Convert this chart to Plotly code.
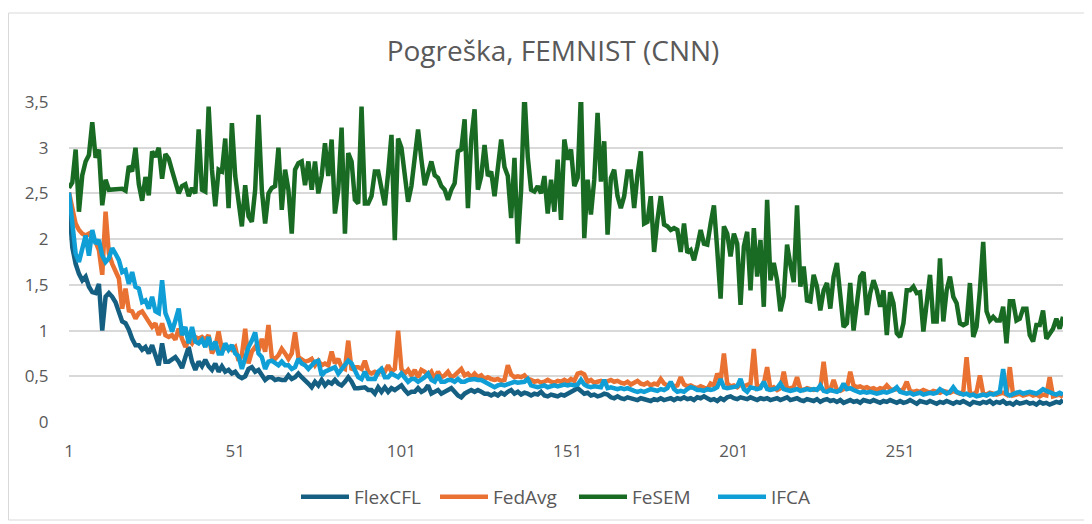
import plotly.graph_objects as go

title_text = "Pogreška, FEMNIST (CNN)"
series_names = ["FlexCFL", "FedAvg", "FeSEM", "IFCA"]
x_tick_vals = [1, 51, 101, 151, 201, 251]
y_tick_vals = [0, 0.5, 1, 1.5, 2, 2.5, 3, 3.5]

flexcfl = [
    2.39, 1.91, 1.73, 1.62, 1.55, 1.59, 1.48, 1.42, 1.41, 1.51,
    1.00, 1.37, 1.41, 1.37, 1.31, 1.22, 1.10, 1.08, 1.01, 0.91,
    0.84, 0.84, 0.79, 0.82, 0.75, 0.84, 0.71, 0.62, 0.86, 0.66,
    0.66, 0.68, 0.71, 0.66, 0.59, 0.71, 0.82, 0.66, 0.57, 0.66,
    0.61, 0.68, 0.61, 0.57, 0.64, 0.55, 0.61, 0.55, 0.57, 0.53,
    0.55, 0.50, 0.48, 0.50, 0.58, 0.60, 0.55, 0.57, 0.51, 0.46,
    0.49, 0.49, 0.46, 0.47, 0.46, 0.46, 0.51, 0.47, 0.49, 0.53,
    0.49, 0.46, 0.42, 0.38, 0.44, 0.40, 0.46, 0.40, 0.44, 0.42,
    0.46, 0.42, 0.40, 0.44, 0.49, 0.44, 0.37, 0.37, 0.37, 0.38,
    0.35, 0.35, 0.31, 0.38, 0.33, 0.38, 0.33, 0.37, 0.35, 0.38,
    0.40, 0.35, 0.31, 0.33, 0.33, 0.37, 0.33, 0.35, 0.40, 0.31,
    0.33, 0.35, 0.31, 0.33, 0.35, 0.37, 0.33, 0.29, 0.27, 0.31,
    0.33, 0.35, 0.33, 0.35, 0.33, 0.31, 0.31, 0.29, 0.31, 0.29,
    0.32, 0.30, 0.33, 0.35, 0.31, 0.33, 0.30, 0.32, 0.31, 0.29,
    0.31, 0.30, 0.33, 0.29, 0.28, 0.30, 0.29, 0.28, 0.30, 0.29,
    0.31, 0.33, 0.36, 0.37, 0.34, 0.31, 0.32, 0.29, 0.30, 0.28,
    0.29, 0.31, 0.30, 0.27, 0.26, 0.28, 0.26, 0.25, 0.27, 0.26,
    0.25, 0.24, 0.26, 0.25, 0.24, 0.23, 0.25, 0.24, 0.26, 0.24,
    0.25, 0.26, 0.24, 0.26, 0.25, 0.27, 0.25, 0.26, 0.24, 0.27,
    0.26, 0.28, 0.26, 0.24, 0.25, 0.23, 0.26, 0.24, 0.27, 0.28,
    0.26, 0.25, 0.27, 0.26, 0.25, 0.27, 0.26, 0.24, 0.26, 0.25,
    0.26, 0.24, 0.25, 0.26, 0.24, 0.25, 0.27, 0.24, 0.25, 0.26,
    0.24, 0.23, 0.25, 0.24, 0.23, 0.25, 0.22, 0.24, 0.25, 0.23,
    0.24, 0.22, 0.24, 0.21, 0.23, 0.24, 0.22, 0.23, 0.21, 0.24,
    0.23, 0.22, 0.24, 0.22, 0.21, 0.23, 0.22, 0.24, 0.22, 0.21,
    0.23, 0.21, 0.22, 0.24, 0.22, 0.20, 0.23, 0.22, 0.21, 0.23,
    0.22, 0.20, 0.22, 0.21, 0.23, 0.21, 0.20, 0.22, 0.21, 0.23,
    0.21, 0.19, 0.22, 0.21, 0.20, 0.22, 0.21, 0.23, 0.20, 0.22,
    0.21, 0.23, 0.20, 0.21, 0.19, 0.22, 0.20, 0.21, 0.22, 0.20,
    0.21, 0.19, 0.22, 0.20, 0.21, 0.19, 0.20, 0.22, 0.21, 0.24,
]

fedavg = [
    2.51, 2.31, 2.17, 2.10, 2.06, 2.04, 2.06, 2.02, 1.97, 1.88,
    1.61, 2.30, 1.84, 1.73, 1.64, 1.57, 1.24, 1.46, 1.22, 1.21,
    1.13, 1.19, 1.21, 1.15, 1.11, 1.04, 1.08, 0.95, 1.08, 0.95,
    0.93, 0.95, 0.90, 1.02, 0.91, 0.82, 0.90, 0.86, 0.93, 0.91,
    0.93, 0.90, 0.95, 0.75, 0.82, 0.99, 0.79, 0.81, 0.82, 0.79,
    0.82, 0.67, 0.73, 1.02, 0.64, 0.77, 0.82, 0.78, 0.91, 0.77,
    1.06, 0.71, 0.69, 0.73, 0.80, 0.75, 0.69, 0.75, 0.98, 0.71,
    0.69, 0.66, 0.67, 0.69, 0.62, 0.67, 0.62, 0.64, 0.62, 0.77,
    0.64, 0.69, 0.60, 0.58, 0.89, 0.57, 0.60, 0.60, 0.58, 0.67,
    0.55, 0.53, 0.55, 0.53, 0.58, 0.55, 0.62, 0.55, 0.58, 1.00,
    0.58, 0.53, 0.57, 0.51, 0.57, 0.49, 0.57, 0.55, 0.51, 0.55,
    0.47, 0.55, 0.49, 0.51, 0.55, 0.49, 0.51, 0.55, 0.58, 0.51,
    0.53, 0.49, 0.53, 0.49, 0.51, 0.47, 0.49, 0.47, 0.46, 0.47,
    0.45, 0.46, 0.62, 0.52, 0.49, 0.50, 0.49, 0.51, 0.47, 0.46,
    0.44, 0.45, 0.43, 0.44, 0.46, 0.44, 0.43, 0.45, 0.44, 0.46,
    0.44, 0.47, 0.45, 0.53, 0.54, 0.52, 0.44, 0.46, 0.43, 0.44,
    0.45, 0.43, 0.44, 0.46, 0.44, 0.45, 0.43, 0.42, 0.44, 0.41,
    0.43, 0.45, 0.42, 0.41, 0.43, 0.40, 0.42, 0.41, 0.47, 0.42,
    0.40, 0.42, 0.39, 0.40, 0.49, 0.41, 0.39, 0.40, 0.38, 0.37,
    0.39, 0.38, 0.36, 0.42, 0.40, 0.53, 0.45, 0.75, 0.42, 0.39,
    0.40, 0.38, 0.41, 0.39, 0.41, 0.42, 0.80, 0.37, 0.39, 0.42,
    0.60, 0.36, 0.38, 0.35, 0.37, 0.55, 0.36, 0.37, 0.38, 0.49,
    0.36, 0.35, 0.37, 0.36, 0.35, 0.36, 0.37, 0.66, 0.36, 0.35,
    0.46, 0.35, 0.34, 0.36, 0.37, 0.55, 0.40, 0.38, 0.39, 0.37,
    0.38, 0.36, 0.37, 0.35, 0.37, 0.36, 0.40, 0.36, 0.35, 0.36,
    0.34, 0.36, 0.44, 0.34, 0.33, 0.34, 0.33, 0.35, 0.33, 0.32,
    0.34, 0.33, 0.32, 0.34, 0.33, 0.32, 0.34, 0.33, 0.31, 0.33,
    0.71, 0.32, 0.30, 0.33, 0.51, 0.31, 0.30, 0.32, 0.31, 0.30,
    0.31, 0.32, 0.30, 0.60, 0.29, 0.30, 0.31, 0.29, 0.30, 0.31,
    0.29, 0.30, 0.28, 0.30, 0.29, 0.49, 0.28, 0.29, 0.30, 0.27,
]

fesem = [
    2.56, 2.62, 2.98, 2.30, 2.70, 2.85, 2.92, 3.28, 2.89, 2.98,
    2.37, 2.65, 2.54, 2.54, 2.54, 2.54, 2.55, 2.53, 2.80, 2.74,
    3.00, 2.60, 2.42, 2.68, 2.48, 2.96, 2.90, 3.00, 2.66, 2.93,
    2.88, 2.75, 2.63, 2.50, 2.58, 2.60, 2.47, 2.56, 2.50, 3.20,
    2.54, 2.52, 3.45, 2.76, 2.36, 2.76, 2.74, 3.10, 2.34, 3.27,
    2.69, 2.39, 2.14, 2.59, 2.25, 2.19, 2.54, 3.36, 2.54, 2.17,
    2.50, 2.56, 2.58, 3.00, 2.32, 2.76, 2.54, 2.06, 2.76, 2.83,
    2.85, 2.59, 2.85, 2.54, 2.85, 2.50, 2.69, 3.05, 2.69, 3.09,
    2.28, 2.54, 3.22, 2.06, 2.94, 2.85, 2.43, 2.39, 3.45, 2.39,
    2.39, 2.47, 2.74, 2.74, 2.54, 2.37, 2.72, 3.14, 1.99, 3.10,
    3.00, 2.72, 2.41, 2.58, 2.94, 3.20, 2.87, 2.59, 2.72, 2.85,
    2.70, 2.67, 2.58, 2.54, 2.43, 2.54, 2.61, 2.96, 2.98, 3.31,
    2.34, 3.09, 3.42, 2.54, 2.69, 3.03, 2.69, 2.74, 2.47, 2.78,
    3.09, 2.79, 2.69, 2.23, 2.89, 1.95, 2.54, 3.60, 2.90, 2.54,
    2.52, 2.58, 2.50, 2.69, 2.28, 2.65, 2.30, 2.87, 2.21, 3.09,
    2.87, 2.98, 2.58, 2.67, 3.60, 2.01, 2.65, 2.27, 2.65, 3.38,
    2.63, 3.07, 2.05, 2.67, 2.76, 2.47, 2.34, 2.47, 2.74, 2.74,
    2.34, 2.70, 2.96, 2.17, 2.19, 2.47, 1.86, 2.21, 2.47, 2.16,
    2.14, 2.10, 2.12, 2.10, 1.86, 2.17, 1.85, 1.88, 1.77, 1.92,
    2.10, 1.95, 1.94, 2.17, 2.37, 1.88, 1.35, 2.14, 2.06, 1.81,
    2.06, 1.95, 1.28, 1.92, 2.08, 1.44, 2.12, 1.59, 1.99, 1.26,
    2.43, 1.55, 1.74, 1.55, 1.21, 1.37, 1.94, 1.72, 1.53, 2.37,
    1.48, 1.70, 1.33, 1.32, 1.61, 1.48, 1.22, 1.44, 1.52, 1.24,
    1.59, 1.74, 1.37, 1.04, 1.08, 1.52, 1.00, 1.35, 1.59, 1.64,
    1.17, 1.41, 1.55, 1.44, 1.26, 1.44, 0.95, 1.42, 1.30, 0.97,
    0.93, 1.08, 1.44, 1.44, 1.48, 1.41, 1.42, 0.99, 1.26, 1.61,
    1.10, 1.10, 1.79, 1.10, 1.44, 1.59, 1.37, 1.30, 1.08, 1.06,
    1.08, 1.52, 0.93, 1.04, 1.44, 1.97, 1.21, 1.11, 1.15, 1.11,
    1.11, 1.26, 0.86, 1.32, 1.32, 1.11, 1.13, 1.24, 1.24, 0.95,
    0.88, 1.06, 1.06, 1.22, 0.91, 0.97, 1.02, 1.13, 1.02, 1.15,
]

ifca = [
    2.51, 2.17, 1.84, 1.75, 1.91, 2.04, 1.82, 2.10, 1.95, 1.99,
    1.82, 1.75, 1.79, 1.90, 1.84, 1.77, 1.64, 1.66, 1.51, 1.64,
    1.48, 1.46, 1.31, 1.33, 1.24, 1.37, 1.21, 1.19, 1.55, 1.19,
    1.10, 0.99, 1.11, 1.24, 0.95, 1.04, 0.86, 1.04, 0.88, 0.86,
    0.90, 0.82, 0.93, 0.79, 0.88, 0.75, 0.75, 0.86, 0.79, 0.84,
    0.75, 0.72, 0.58, 0.71, 0.82, 0.89, 0.98, 0.75, 0.71, 0.58,
    0.66, 0.67, 0.64, 0.62, 0.66, 0.62, 0.62, 0.58, 0.60, 0.69,
    0.64, 0.62, 0.58, 0.62, 0.66, 0.67, 0.51, 0.55, 0.57, 0.58,
    0.60, 0.53, 0.58, 0.64, 0.67, 0.64, 0.55, 0.49, 0.47, 0.55,
    0.47, 0.47, 0.47, 0.55, 0.58, 0.49, 0.49, 0.53, 0.51, 0.49,
    0.53, 0.49, 0.44, 0.47, 0.47, 0.44, 0.46, 0.49, 0.53, 0.46,
    0.44, 0.51, 0.44, 0.44, 0.46, 0.46, 0.44, 0.47, 0.44, 0.44,
    0.46, 0.47, 0.47, 0.46, 0.46, 0.44, 0.42, 0.40, 0.38, 0.40,
    0.41, 0.40, 0.41, 0.42, 0.44, 0.43, 0.44, 0.44, 0.47, 0.40,
    0.39, 0.38, 0.39, 0.40, 0.38, 0.39, 0.40, 0.39, 0.40, 0.41,
    0.40, 0.41, 0.40, 0.41, 0.46, 0.41, 0.39, 0.38, 0.39, 0.38,
    0.38, 0.46, 0.37, 0.38, 0.37, 0.36, 0.37, 0.36, 0.37, 0.35,
    0.34, 0.33, 0.34, 0.33, 0.35, 0.36, 0.35, 0.34, 0.36, 0.35,
    0.37, 0.44, 0.36, 0.33, 0.34, 0.33, 0.36, 0.38, 0.37, 0.35,
    0.35, 0.34, 0.36, 0.35, 0.36, 0.38, 0.47, 0.38, 0.37, 0.38,
    0.38, 0.39, 0.47, 0.36, 0.33, 0.38, 0.37, 0.36, 0.37, 0.44,
    0.36, 0.35, 0.36, 0.37, 0.42, 0.36, 0.35, 0.34, 0.35, 0.36,
    0.34, 0.35, 0.36, 0.35, 0.36, 0.35, 0.40, 0.34, 0.33, 0.35,
    0.34, 0.33, 0.35, 0.42, 0.36, 0.37, 0.35, 0.33, 0.32, 0.33,
    0.32, 0.33, 0.32, 0.31, 0.32, 0.33, 0.32, 0.33, 0.35, 0.38,
    0.33, 0.32, 0.31, 0.32, 0.30, 0.31, 0.32, 0.30, 0.31, 0.32,
    0.31, 0.32, 0.36, 0.33, 0.31, 0.33, 0.38, 0.33, 0.31, 0.30,
    0.31, 0.29, 0.30, 0.28, 0.29, 0.30, 0.29, 0.31, 0.30, 0.32,
    0.33, 0.58, 0.31, 0.29, 0.31, 0.32, 0.33, 0.31, 0.32, 0.33,
    0.32, 0.31, 0.33, 0.36, 0.34, 0.32, 0.31, 0.30, 0.32, 0.30,
]

colors = {"FlexCFL": "#156082", "FedAvg": "#E97132", "FeSEM": "#196B24", "IFCA": "#0F9ED5"}
data = {"FlexCFL": flexcfl, "FedAvg": fedavg, "FeSEM": fesem, "IFCA": ifca}

FONT = "Open Sans"
GREY = "#595959"

fig = go.Figure()
for name in series_names:
    vals = data[name]
    fig.add_trace(go.Scatter(
        x=list(range(1, len(vals) + 1)), y=vals, name=name, mode="lines",
        line=dict(color=colors[name], width=4.5, shape="linear"),
        hoverinfo="skip",
    ))

n = len(fesem)
# page has an 8px body margin; figure coordinates below are page coordinates minus 8
OFF = 8
W, H = 1092 - OFF, 524 - OFF
plot_left, plot_right, plot_top, plot_bottom = 69 - OFF, 1063 - OFF, 102 - OFF, 422 - OFF
L, R, T, B = plot_left, W - plot_right, plot_top, H - plot_bottom
pw, ph = plot_right - plot_left, plot_bottom - plot_top

def px_x(p):
    return (p - OFF - plot_left) / pw

def px_y(p):
    return (plot_bottom - (p - OFF)) / ph

fig.update_layout(
    width=W, height=H,
    margin=dict(l=L, r=R, t=T, b=B, autoexpand=False),
    paper_bgcolor="white", plot_bgcolor="white",
    separators=", ",
    font=dict(family=FONT, color=GREY, size=17),
    title=dict(text=title_text, x=(553 - OFF) / W, xref="container", xanchor="center",
               y=1 - (51 - OFF) / H, yanchor="middle", yref="container",
               font=dict(family=FONT, size=28, color=GREY)),
    showlegend=True,
    legend=dict(orientation="h", x=px_x(296), xanchor="left", y=px_y(497), yanchor="middle",
                font=dict(family=FONT, size=19, color=GREY), itemwidth=48,
                entrywidth=76, entrywidthmode="pixels",
                traceorder="normal"),
    xaxis=dict(range=[1, n], tickmode="array", tickvals=x_tick_vals,
               ticktext=[str(v) for v in x_tick_vals],
               showgrid=False, zeroline=False, showline=False,
               ticks="outside", ticklen=14, tickcolor="rgba(0,0,0,0)",
               tickfont=dict(family=FONT, size=17, color=GREY)),
    yaxis=dict(range=[0, 3.5], tickmode="array", tickvals=y_tick_vals,
               ticktext=[("%g" % v).replace(".", ",") for v in y_tick_vals],
               showgrid=True, gridcolor="#D9D9D9", gridwidth=1.5,
               zeroline=False, showline=False,
               ticks="outside", ticklen=16, tickcolor="rgba(0,0,0,0)",
               tickfont=dict(family=FONT, size=17, color=GREY)),
    shapes=[dict(type="rect", xref="paper", yref="paper",
                 x0=px_x(8.5), x1=px_x(1085), y0=px_y(520), y1=px_y(13),
                 line=dict(color="#D9D9D9", width=1), fillcolor="rgba(0,0,0,0)",
                 layer="below")],
)

fig.write_html("out.html")
